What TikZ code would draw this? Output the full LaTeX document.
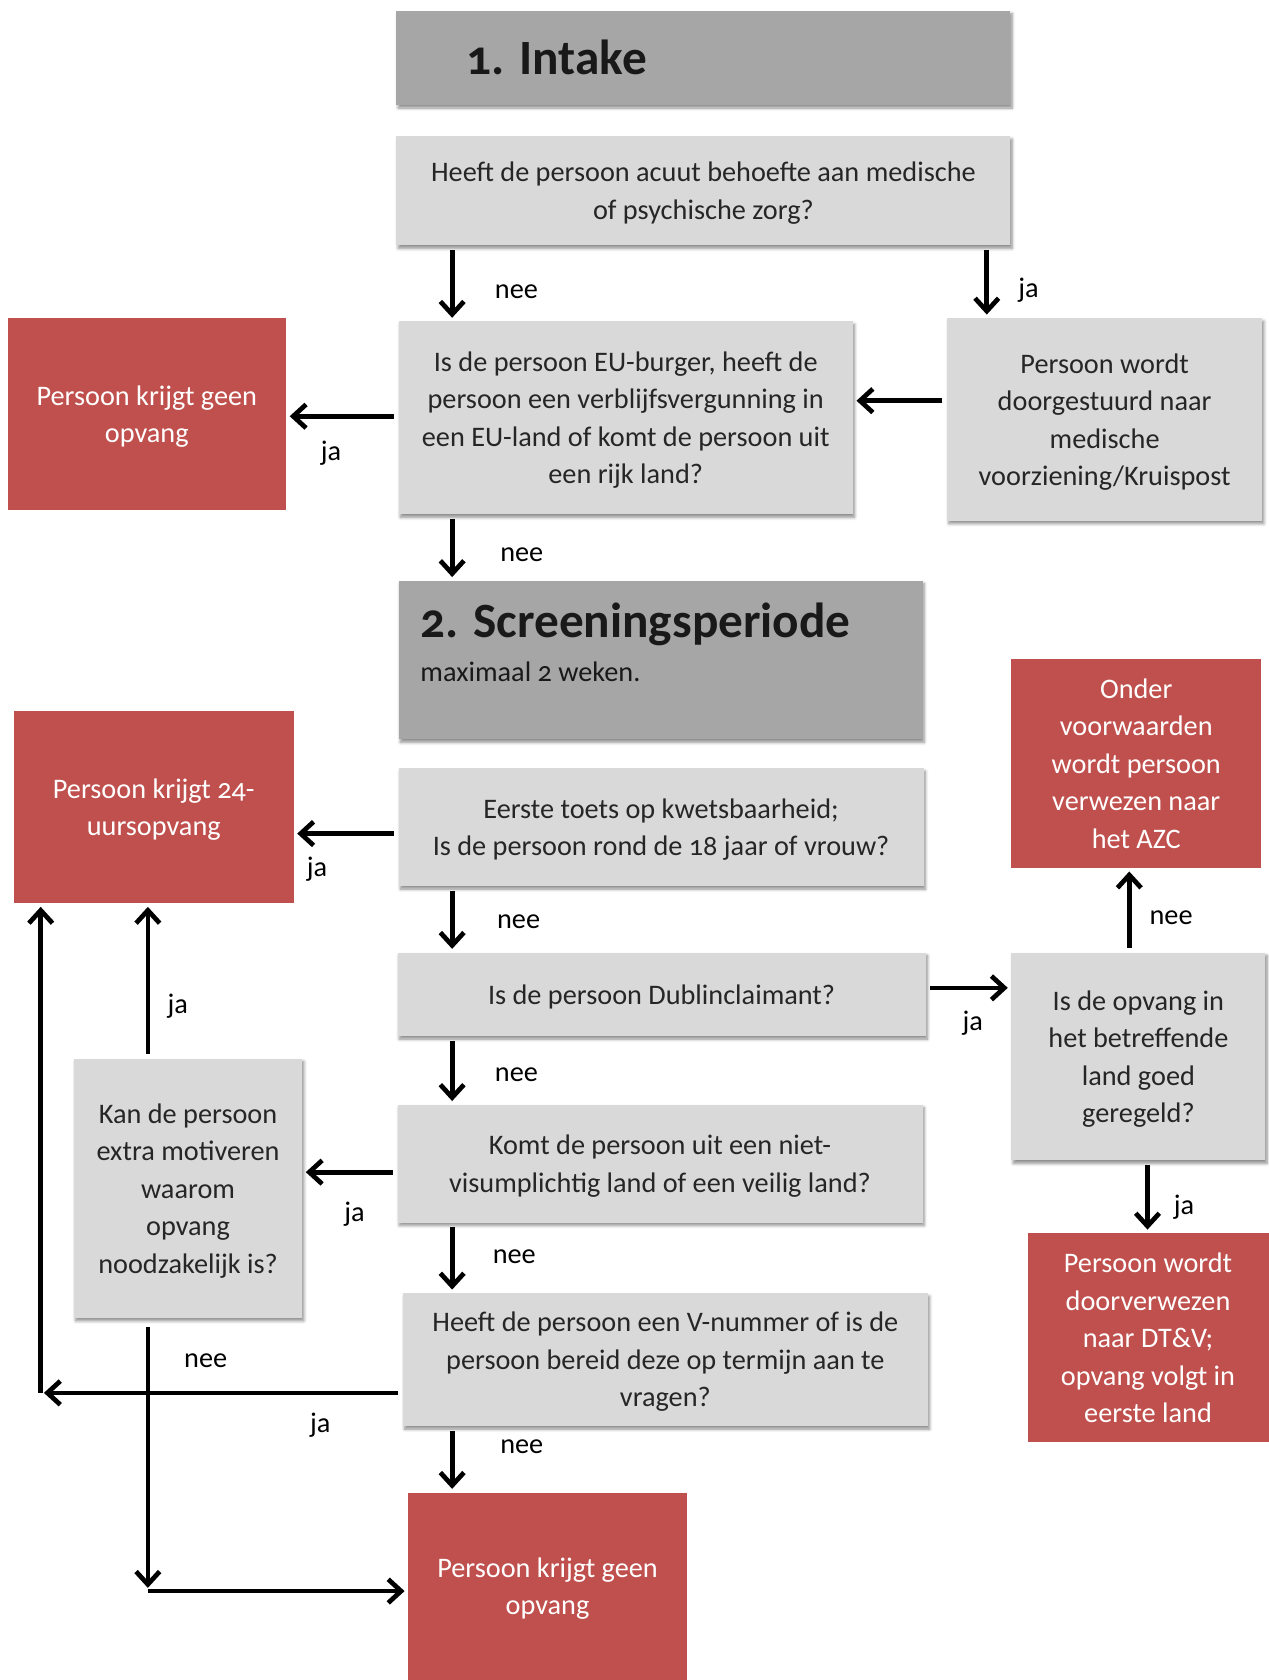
\documentclass[tikz,border=0pt]{standalone}
\usepackage{fontspec}
\setmainfont{Carlito}[Numbers=OldStyle]
\usetikzlibrary{arrows.meta,shadows.blur}
\definecolor{kopgrijs}{HTML}{A6A6A6}
\definecolor{vraaggrijs}{HTML}{D9D9D9}
\definecolor{rood}{HTML}{C0504D}

\begin{document}
\begin{tikzpicture}[x=0.5pt,y=-0.5pt,
		schaduw/.style={blur shadow={shadow xshift=0.8pt,shadow yshift=-1.4pt,shadow blur radius=1.4pt,shadow blur steps=6,shadow opacity=45}},
		vraag/.style={fill=vraaggrijs,text=black!85,align=center,inner sep=0pt,schaduw,
			font=\fontsize{13.2}{17.5}\selectfont,text depth=-4pt},
		kop/.style={fill=kopgrijs,inner sep=0pt,schaduw},
		uitkomst/.style={fill=rood,text=white,align=center,inner sep=0pt,
			font=\fontsize{13.2}{17.5}\selectfont,text depth=-4pt},
		koptekst/.style={anchor=west,inner sep=0pt,text=black!90,font=\fontsize{23}{28}\selectfont\bfseries},
		keuze/.style={font=\fontsize{13.2}{17.5}\selectfont},
		pijl/.style={-{Straight Barb[length=6pt,width=11pt]},line width=2.2pt,shorten <=2pt,shorten >=1.5pt}]
		\useasboundingbox (0,0) rectangle (1184,1568);

		% 1. Intake
		\node[kop,minimum width=286.5pt,minimum height=44pt] (intake) at (656.5,54) {};
		\node[koptekst] (intaketekst) at (435,54) {1. Intake};
		\node[vraag,minimum width=286.5pt,minimum height=51pt] (acuut) at (656.5,178)
			{Heeft de persoon acuut behoefte aan medische\\of psychische zorg?};
		\node[vraag,minimum width=212pt,minimum height=90pt] (euburger) at (584,390)
			{Is de persoon EU-burger, heeft de\\persoon een verblijfsvergunning in\\een EU-land of komt de persoon uit\\een rijk land?};
		\node[vraag,minimum width=147pt,minimum height=94.5pt] (medisch) at (1031,391.5)
			{Persoon wordt\\doorgestuurd naar\\medische\\voorziening/Kruispost};
		\node[uitkomst,minimum width=130pt,minimum height=89.5pt] (geenopvang) at (137,386.5)
			{Persoon krijgt geen\\opvang};

		% 2. Screeningsperiode
		\node[kop,minimum width=244.5pt,minimum height=74pt] (screening) at (616.5,616) {};
		\node[koptekst] (screeningtekst) at (392,583) {2. Screeningsperiode};
		\node[anchor=west,inner sep=0pt,text=black!90,font=\fontsize{13.2}{17.5}\selectfont] (termijn) at (392,627) {maximaal 2 weken.};
		\node[uitkomst,minimum width=130.5pt,minimum height=89.5pt] (uursopvang) at (143.5,753.5)
			{Persoon krijgt 24-\\uursopvang};
		\node[vraag,minimum width=245pt,minimum height=55pt] (kwetsbaar) at (617,772)
			{Eerste toets op kwetsbaarheid;\\Is de persoon rond de 18 jaar of vrouw?};
		\node[vraag,minimum width=246.5pt,minimum height=39pt,text depth=-1pt] (dublin) at (617.5,928)
			{Is de persoon Dublinclaimant?};
		\node[uitkomst,minimum width=116.5pt,minimum height=97.5pt] (azc) at (1060.5,712.5)
			{Onder\\voorwaarden\\wordt persoon\\verwezen naar\\het AZC};
		\node[vraag,minimum width=118.5pt,minimum height=97pt] (geregeld) at (1062.5,986)
			{Is de opvang in\\het betreffende\\land goed\\geregeld?};
		\node[uitkomst,minimum width=112.5pt,minimum height=97.5pt] (dtv) at (1071.5,1248.5)
			{Persoon wordt\\doorverwezen\\naar DT\&V;\\opvang volgt in\\eerste land};
		\node[vraag,minimum width=245pt,minimum height=55pt] (visum) at (616,1086)
			{Komt de persoon uit een niet-\\visumplichtig land of een veilig land?};
		\node[vraag,minimum width=106.5pt,minimum height=121pt] (motiveren) at (175.5,1109)
			{Kan de persoon\\extra motiveren\\waarom\\opvang\\noodzakelijk is?};
		\node[vraag,minimum width=245pt,minimum height=62pt] (vnummer) at (621,1269)
			{Heeft de persoon een V-nummer of is de\\persoon bereid deze op termijn aan te\\vragen?};
		\node[uitkomst,minimum width=130pt,minimum height=87.5pt] (geenopvang2) at (511,1480.5)
			{Persoon krijgt geen\\opvang};

		% hulplijnen
		\coordinate (links) at (422,0);
		\coordinate (rechts) at (921,0);
		\coordinate (naarazc) at (1054,0);
		\coordinate (naardtv) at (1071,0);
		\coordinate (kolom) at (138,0);
		\coordinate (hoek) at (38,1300);
		\coordinate (hoek2) at (138,1485);

		% verbindingen
		\draw[pijl] (acuut.south -| links) -- (euburger.north -| links);
		\draw[pijl] (acuut.south -| rechts) -- (medisch.north -| rechts);
		\draw[pijl] ([yshift=8.75pt]medisch.west) -- ([yshift=8.75pt]medisch.west -| euburger.east);
		\draw[pijl] ([yshift=0.75pt]euburger.west) -- ([yshift=0.75pt]euburger.west -| geenopvang.east);
		\draw[pijl] (euburger.south -| links) -- (screening.north -| links);
		\draw[pijl] ([yshift=-3pt]kwetsbaar.west) -- ([yshift=-3pt]kwetsbaar.west -| uursopvang.east);
		\draw[pijl] (kwetsbaar.south -| links) -- (dublin.north -| links);
		\draw[pijl] ([yshift=3pt]dublin.east) -- ([yshift=3pt]dublin.east -| geregeld.west);
		\draw[pijl] (geregeld.north -| naarazc) -- (azc.south -| naarazc);
		\draw[pijl] (geregeld.south -| naardtv) -- (dtv.north -| naardtv);
		\draw[pijl] (dublin.south -| links) -- (visum.north -| links);
		\draw[pijl] ([yshift=-4pt]visum.west) -- ([yshift=-4pt]visum.west -| motiveren.east);
		\draw[pijl] (motiveren.north -| kolom) -- (uursopvang.south -| kolom);
		\draw[pijl] (visum.south -| links) -- (vnummer.north -| links);
		\draw[pijl] (vnummer.west |- hoek) -- (hoek);
		\draw[pijl,shorten <=0pt] (hoek) -- (uursopvang.south -| hoek);
		\draw[pijl] (vnummer.south -| links) -- (geenopvang2.north -| links);
		\draw[pijl,shorten <=4pt] (motiveren.south -| kolom) -- (hoek2);
		\draw[pijl,shorten <=0pt] (hoek2) -- (hoek2 -| geenopvang2.west);

		% antwoorden
		\node[keuze] (nee1) at (482,272) {nee};
		\node[keuze] (ja1) at (960,271) {ja};
		\node[keuze] (ja2) at (309,423) {ja};
		\node[keuze] (nee2) at (487,518) {nee};
		\node[keuze] (ja3) at (296,811) {ja};
		\node[keuze] (nee3) at (484,860) {nee};
		\node[keuze] (ja4) at (908,955) {ja};
		\node[keuze] (nee4) at (1093,857) {nee};
		\node[keuze] (ja5) at (1105,1127) {ja};
		\node[keuze] (nee5) at (482,1003) {nee};
		\node[keuze] (ja6) at (331,1133) {ja};
		\node[keuze] (ja7) at (166,939) {ja};
		\node[keuze] (nee6) at (480,1173) {nee};
		\node[keuze] (ja8) at (299,1330) {ja};
		\node[keuze] (nee7) at (487,1350) {nee};
		\node[keuze] (nee8) at (192,1270) {nee};
	\end{tikzpicture}
\end{document}
